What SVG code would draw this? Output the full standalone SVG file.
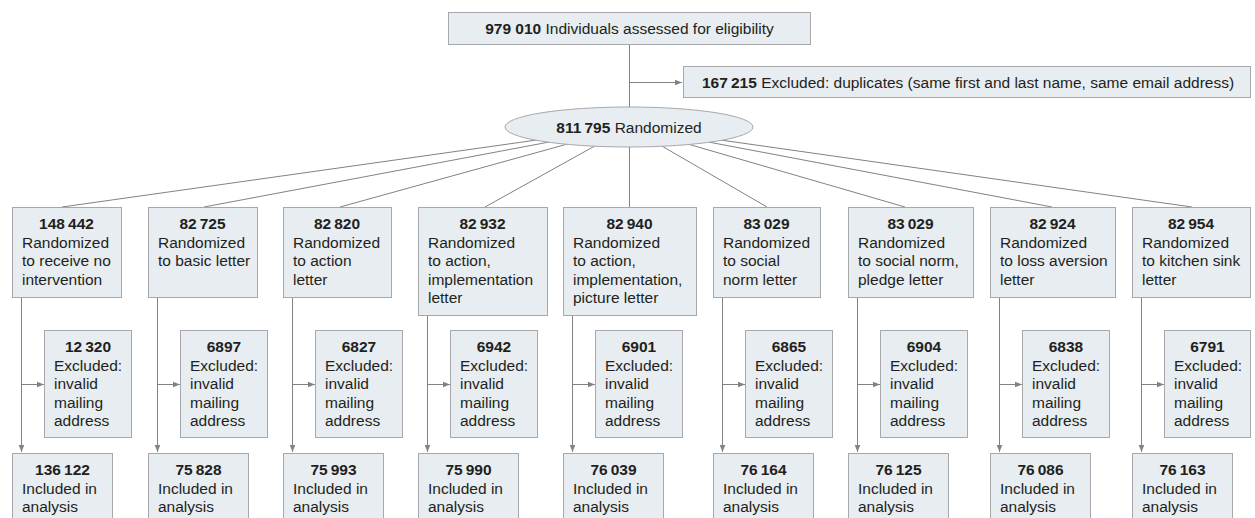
<svg xmlns="http://www.w3.org/2000/svg" width="1255" height="518" viewBox="0 0 1255 518">
<style>
.box{fill:#e7edf1;stroke:#a6a8ab;stroke-width:1}
.ln{stroke:#808285;stroke-width:1;fill:none}
.ar{stroke:#808285;stroke-width:1;fill:none;marker-end:url(#ah)}
text{font-family:"Liberation Sans",Arial,sans-serif;font-size:15.5px;fill:#231f20}
.n{font-weight:bold}
.c{text-anchor:middle}
</style>
<defs>
<marker id="ah" viewBox="0 0 10 10" refX="10" refY="5" markerWidth="8" markerHeight="7" markerUnits="userSpaceOnUse" orient="auto"><path d="M0,1 L10,5 L0,9 z" fill="#808285"/></marker>
</defs>
<rect width="1255" height="518" fill="#ffffff"/>
<g id="connectors">
<line class="ln" x1="629.5" y1="44" x2="629.5" y2="110"/>
<line class="ar" x1="629.5" y1="82.5" x2="682" y2="82.5"/>
<line class="ln" x1="629" y1="127" x2="62" y2="207"/>
<line class="ln" x1="629" y1="127" x2="204" y2="207"/>
<line class="ln" x1="629" y1="127" x2="340" y2="207"/>
<line class="ln" x1="629" y1="127" x2="485" y2="207"/>
<line class="ln" x1="629.5" y1="127" x2="629.5" y2="207"/>
<line class="ln" x1="629" y1="127" x2="767" y2="207"/>
<line class="ln" x1="629" y1="127" x2="905" y2="207"/>
<line class="ln" x1="629" y1="127" x2="1052" y2="207"/>
<line class="ln" x1="629" y1="127" x2="1192" y2="207"/>
<line class="ar" x1="21.5" y1="297.5" x2="21.5" y2="452"/><line class="ar" x1="21.5" y1="384.5" x2="44" y2="384.5"/>
<line class="ar" x1="157.5" y1="297.5" x2="157.5" y2="452"/><line class="ar" x1="157.5" y1="384.5" x2="180" y2="384.5"/>
<line class="ar" x1="292.5" y1="297.5" x2="292.5" y2="452"/><line class="ar" x1="292.5" y1="384.5" x2="315" y2="384.5"/>
<line class="ar" x1="427.5" y1="315.5" x2="427.5" y2="452"/><line class="ar" x1="427.5" y1="384.5" x2="450" y2="384.5"/>
<line class="ar" x1="572.5" y1="315.5" x2="572.5" y2="452"/><line class="ar" x1="572.5" y1="384.5" x2="595" y2="384.5"/>
<line class="ar" x1="722.5" y1="297.5" x2="722.5" y2="452"/><line class="ar" x1="722.5" y1="384.5" x2="745" y2="384.5"/>
<line class="ar" x1="857.5" y1="297.5" x2="857.5" y2="452"/><line class="ar" x1="857.5" y1="384.5" x2="880" y2="384.5"/>
<line class="ar" x1="999.5" y1="297.5" x2="999.5" y2="452"/><line class="ar" x1="999.5" y1="384.5" x2="1022" y2="384.5"/>
<line class="ar" x1="1141.5" y1="297.5" x2="1141.5" y2="452"/><line class="ar" x1="1141.5" y1="384.5" x2="1164" y2="384.5"/>
</g>
<g id="assessed">
<rect class="box" x="448.5" y="12.5" width="362" height="32"/>
<text x="629.5" y="34" class="c"><tspan class="n">979 010</tspan>  Individuals assessed for eligibility</text>
</g>
<g id="excluded-duplicates">
<rect class="box" x="683.5" y="66.5" width="567" height="31"/>
<text x="702" y="88"><tspan class="n">167&#8201;215</tspan>  Excluded: duplicates (same first and last name, same email address)</text>
</g>
<g id="randomized">
<ellipse class="box" cx="629" cy="127" rx="124" ry="20"/>
<text x="629" y="132.5" class="c"><tspan class="n">811&#8201;795</tspan>  Randomized</text>
</g>
<g id="arm1">
<rect class="box" x="12.5" y="207.5" width="109" height="90"/>
<text x="66.5" y="229" class="c n">148&#8201;442</text>
<text x="22" y="247.5">Randomized</text><text x="22" y="266">to receive no</text><text x="22" y="284.5">intervention</text>
</g>
<g id="arm2">
<rect class="box" x="148.5" y="207.5" width="109" height="90"/>
<text x="202.5" y="229" class="c n">82&#8201;725</text>
<text x="158" y="247.5">Randomized</text><text x="158" y="266">to basic letter</text>
</g>
<g id="arm3">
<rect class="box" x="283.5" y="207.5" width="108" height="90"/>
<text x="337" y="229" class="c n">82&#8201;820</text>
<text x="293" y="247.5">Randomized</text><text x="293" y="266">to action</text><text x="293" y="284.5">letter</text>
</g>
<g id="arm4">
<rect class="box" x="418.5" y="207.5" width="129" height="108"/>
<text x="482.5" y="229" class="c n">82&#8201;932</text>
<text x="428" y="247.5">Randomized</text><text x="428" y="266">to action,</text><text x="428" y="284.5">implementation</text><text x="428" y="303">letter</text>
</g>
<g id="arm5">
<rect class="box" x="563.5" y="207.5" width="133" height="108"/>
<text x="629.5" y="229" class="c n">82&#8201;940</text>
<text x="573" y="247.5">Randomized</text><text x="573" y="266">to action,</text><text x="573" y="284.5">implementation,</text><text x="573" y="303">picture letter</text>
</g>
<g id="arm6">
<rect class="box" x="713.5" y="207.5" width="107" height="90"/>
<text x="766.5" y="229" class="c n">83&#8201;029</text>
<text x="723" y="247.5">Randomized</text><text x="723" y="266">to social</text><text x="723" y="284.5">norm letter</text>
</g>
<g id="arm7">
<rect class="box" x="848.5" y="207.5" width="125" height="90"/>
<text x="910.5" y="229" class="c n">83&#8201;029</text>
<text x="858" y="247.5">Randomized</text><text x="858" y="266">to social norm,</text><text x="858" y="284.5">pledge letter</text>
</g>
<g id="arm8">
<rect class="box" x="990.5" y="207.5" width="125" height="90"/>
<text x="1052.5" y="229" class="c n">82&#8201;924</text>
<text x="1000" y="247.5">Randomized</text><text x="1000" y="266">to loss aversion</text><text x="1000" y="284.5">letter</text>
</g>
<g id="arm9">
<rect class="box" x="1132.5" y="207.5" width="118" height="90"/>
<text x="1191" y="229" class="c n">82&#8201;954</text>
<text x="1142" y="247.5">Randomized</text><text x="1142" y="266">to kitchen sink</text><text x="1142" y="284.5">letter</text>
</g>
<g id="excl1"><rect class="box" x="44.5" y="330.5" width="87" height="107"/><text x="88" y="352" class="c n">12&#8201;320</text><text x="54" y="370.5">Excluded:</text><text x="54" y="389">invalid</text><text x="54" y="407.5">mailing</text><text x="54" y="426">address</text></g>
<g id="excl2"><rect class="box" x="180.5" y="330.5" width="87" height="107"/><text x="224" y="352" class="c n">6897</text><text x="190" y="370.5">Excluded:</text><text x="190" y="389">invalid</text><text x="190" y="407.5">mailing</text><text x="190" y="426">address</text></g>
<g id="excl3"><rect class="box" x="315.5" y="330.5" width="87" height="107"/><text x="359" y="352" class="c n">6827</text><text x="325" y="370.5">Excluded:</text><text x="325" y="389">invalid</text><text x="325" y="407.5">mailing</text><text x="325" y="426">address</text></g>
<g id="excl4"><rect class="box" x="450.5" y="330.5" width="87" height="107"/><text x="494" y="352" class="c n">6942</text><text x="460" y="370.5">Excluded:</text><text x="460" y="389">invalid</text><text x="460" y="407.5">mailing</text><text x="460" y="426">address</text></g>
<g id="excl5"><rect class="box" x="595.5" y="330.5" width="87" height="107"/><text x="639" y="352" class="c n">6901</text><text x="605" y="370.5">Excluded:</text><text x="605" y="389">invalid</text><text x="605" y="407.5">mailing</text><text x="605" y="426">address</text></g>
<g id="excl6"><rect class="box" x="745.5" y="330.5" width="87" height="107"/><text x="789" y="352" class="c n">6865</text><text x="755" y="370.5">Excluded:</text><text x="755" y="389">invalid</text><text x="755" y="407.5">mailing</text><text x="755" y="426">address</text></g>
<g id="excl7"><rect class="box" x="880.5" y="330.5" width="87" height="107"/><text x="924" y="352" class="c n">6904</text><text x="890" y="370.5">Excluded:</text><text x="890" y="389">invalid</text><text x="890" y="407.5">mailing</text><text x="890" y="426">address</text></g>
<g id="excl8"><rect class="box" x="1022.5" y="330.5" width="87" height="107"/><text x="1066" y="352" class="c n">6838</text><text x="1032" y="370.5">Excluded:</text><text x="1032" y="389">invalid</text><text x="1032" y="407.5">mailing</text><text x="1032" y="426">address</text></g>
<g id="excl9"><rect class="box" x="1164.5" y="330.5" width="86" height="107"/><text x="1207.5" y="352" class="c n">6791</text><text x="1174" y="370.5">Excluded:</text><text x="1174" y="389">invalid</text><text x="1174" y="407.5">mailing</text><text x="1174" y="426">address</text></g>
<g id="incl1"><rect class="box" x="12.5" y="453.5" width="100" height="80"/><text x="62.5" y="475" class="c n">136&#8201;122</text><text x="22" y="493.5">Included in</text><text x="22" y="512">analysis</text></g>
<g id="incl2"><rect class="box" x="148.5" y="453.5" width="100" height="80"/><text x="198.5" y="475" class="c n">75&#8201;828</text><text x="158" y="493.5">Included in</text><text x="158" y="512">analysis</text></g>
<g id="incl3"><rect class="box" x="283.5" y="453.5" width="100" height="80"/><text x="333.5" y="475" class="c n">75&#8201;993</text><text x="293" y="493.5">Included in</text><text x="293" y="512">analysis</text></g>
<g id="incl4"><rect class="box" x="418.5" y="453.5" width="100" height="80"/><text x="468.5" y="475" class="c n">75&#8201;990</text><text x="428" y="493.5">Included in</text><text x="428" y="512">analysis</text></g>
<g id="incl5"><rect class="box" x="563.5" y="453.5" width="100" height="80"/><text x="613.5" y="475" class="c n">76&#8201;039</text><text x="573" y="493.5">Included in</text><text x="573" y="512">analysis</text></g>
<g id="incl6"><rect class="box" x="713.5" y="453.5" width="100" height="80"/><text x="763.5" y="475" class="c n">76&#8201;164</text><text x="723" y="493.5">Included in</text><text x="723" y="512">analysis</text></g>
<g id="incl7"><rect class="box" x="848.5" y="453.5" width="100" height="80"/><text x="898.5" y="475" class="c n">76&#8201;125</text><text x="858" y="493.5">Included in</text><text x="858" y="512">analysis</text></g>
<g id="incl8"><rect class="box" x="990.5" y="453.5" width="100" height="80"/><text x="1040.5" y="475" class="c n">76&#8201;086</text><text x="1000" y="493.5">Included in</text><text x="1000" y="512">analysis</text></g>
<g id="incl9"><rect class="box" x="1132.5" y="453.5" width="100" height="80"/><text x="1182.5" y="475" class="c n">76&#8201;163</text><text x="1142" y="493.5">Included in</text><text x="1142" y="512">analysis</text></g>
</svg>
